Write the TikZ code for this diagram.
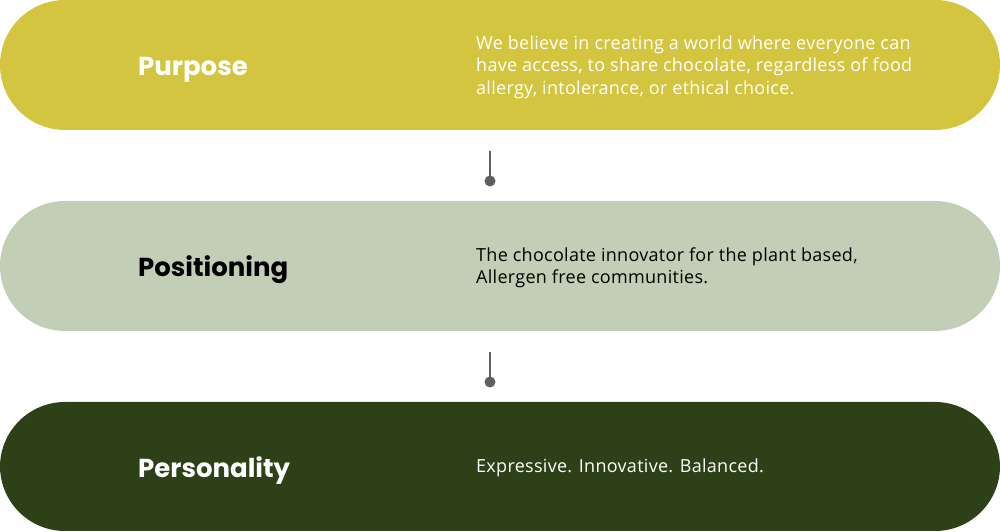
\documentclass[tikz,border=0pt]{standalone}
\usepackage{fontspec}
\setmainfont[LetterSpace=1.6]{Open Sans}
\newfontfamily\headfont{Poppins}
\definecolor{cPurpose}{HTML}{D4C540}
\definecolor{cPosition}{HTML}{C2CEB5}
\definecolor{cPerson}{HTML}{2E4018}
\definecolor{cLine}{HTML}{5F5F5F}
\begin{document}
\begin{tikzpicture}[x=1pt,y=1pt,
  pill/.style={rounded corners=65pt},
  head/.style={anchor=west,inner sep=0pt,font=\headfont\bfseries\fontsize{26}{30}\selectfont},
  body/.style={anchor=west,inner sep=0pt,align=left,font=\fontsize{18}{22.5}\selectfont},
  dot/.style={circle,fill=cLine,minimum size=11pt,inner sep=0pt},
  link/.style={draw=cLine,line width=2pt}]
\useasboundingbox (0,0) rectangle (1000,532);
\fill[cPurpose,pill] (0,402) rectangle (1000,532);
\fill[cPosition,pill] (0,201) rectangle (1000,331);
\fill[cPerson,pill] (0,1) rectangle (1000,130);
\node[head,text=white] (h1) at (138,462) {Purpose};
\node[head,text=black] (h2) at (138,262) {Positioning};
\node[head,text=white] (h3) at (138,61) {Personality};
\node[body,text=white] (b1) at (476,465) {We believe in creating a world where everyone can\\have access, to share chocolate, regardless of food\\allergy, intolerance, or ethical choice.};
\node[body,text=black] (b2) at (476,264) {The chocolate innovator for the plant based,\\Allergen free communities.};
\node[body,text=white] (b3) at (476,64) {Expressive. Innovative. Balanced.};
\coordinate (t1) at (490,381);
\node[dot] (d1) at (490,351) {};
\coordinate (t2) at (490,180);
\node[dot] (d2) at (490,150) {};
\draw[link] (t1) -- (d1.center);
\draw[link] (t2) -- (d2.center);
\end{tikzpicture}
\end{document}
